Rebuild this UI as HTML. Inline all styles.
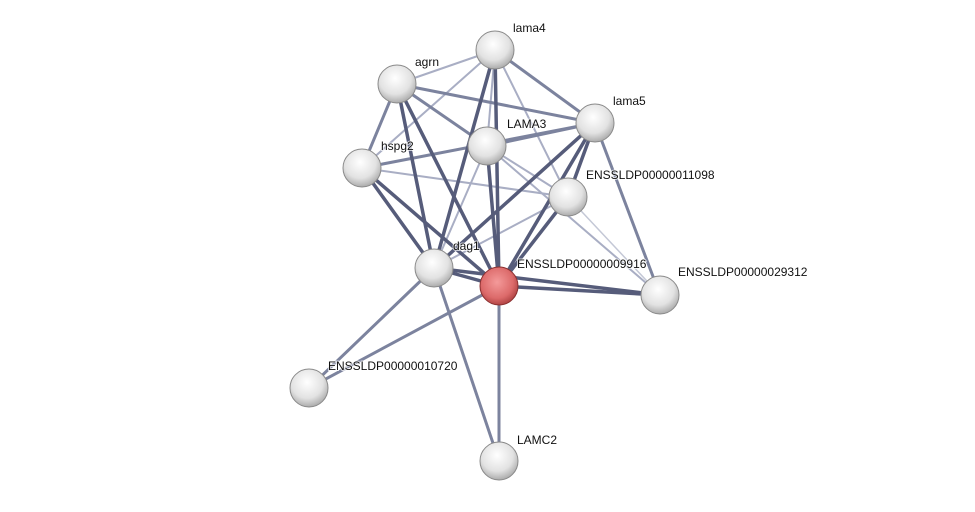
<!DOCTYPE html>
<html><head><style>
html,body{margin:0;padding:0;background:#fff;}
text{font-family:"Liberation Sans",sans-serif;font-size:12px;fill:#111;paint-order:stroke;stroke:#fff;stroke-width:2px;stroke-opacity:0.7;}
</style></head><body>
<svg width="975" height="507" xmlns="http://www.w3.org/2000/svg">
<defs>
<radialGradient id="g" cx="0.45" cy="0.35" r="0.7">
<stop offset="0" stop-color="#ffffff"/><stop offset="0.6" stop-color="#e2e2e2"/><stop offset="1" stop-color="#a0a0a0"/>
</radialGradient>
<radialGradient id="r" cx="0.45" cy="0.4" r="0.7">
<stop offset="0" stop-color="#f49a9a"/><stop offset="0.6" stop-color="#dc6a6a"/><stop offset="1" stop-color="#9a3030"/>
</radialGradient>
</defs>
<g stroke-linecap="round">
<g stroke="#a9aec4" stroke-width="2">
<line x1="397" y1="84" x2="495" y2="50"/>
<line x1="495" y1="50" x2="362" y2="168"/>
<line x1="495" y1="50" x2="568" y2="197"/>
<line x1="487" y1="146" x2="434" y2="268"/>
<line x1="487" y1="146" x2="568" y2="197"/>
<line x1="362" y1="168" x2="568" y2="197"/>
<line x1="568" y1="197" x2="434" y2="268"/>
<line x1="487" y1="146" x2="660" y2="295"/>
<line x1="495" y1="50" x2="487" y2="146"/>
</g>
<g stroke="#c4c8d6" stroke-width="1.5">
<line x1="568" y1="197" x2="660" y2="295"/>
</g>
<g stroke="#7c839e" stroke-width="3">
<line x1="397" y1="84" x2="595" y2="123"/>
<line x1="397" y1="84" x2="487" y2="146"/>
<line x1="397" y1="84" x2="362" y2="168"/>
<line x1="495" y1="50" x2="595" y2="123"/>
<line x1="595" y1="123" x2="487" y2="146"/>
<line x1="595" y1="123" x2="362" y2="168"/>
<line x1="595" y1="123" x2="660" y2="295"/>
<line x1="434" y1="268" x2="309" y2="388"/>
<line x1="499" y1="286" x2="309" y2="388"/>
<line x1="434" y1="268" x2="499" y2="461"/>
<line x1="499" y1="286" x2="499" y2="461"/>
</g>
<g stroke="#565c7a" stroke-width="3.5">
<line x1="397" y1="84" x2="434" y2="268"/>
<line x1="397" y1="84" x2="499" y2="286"/>
<line x1="495" y1="50" x2="434" y2="268"/>
<line x1="495" y1="50" x2="499" y2="286"/>
<line x1="595" y1="123" x2="434" y2="268"/>
<line x1="595" y1="123" x2="499" y2="286"/>
<line x1="595" y1="123" x2="568" y2="197"/>
<line x1="487" y1="146" x2="499" y2="286"/>
<line x1="362" y1="168" x2="434" y2="268"/>
<line x1="362" y1="168" x2="499" y2="286"/>
<line x1="568" y1="197" x2="499" y2="286"/>
<line x1="434" y1="268" x2="499" y2="286"/>
<line x1="434" y1="268" x2="660" y2="295"/>
<line x1="499" y1="286" x2="660" y2="295"/>
</g>
</g>
<g stroke="#8a8a8a" stroke-width="1">
<circle cx="495" cy="50" r="19" fill="url(#g)"/>
<circle cx="397" cy="84" r="19" fill="url(#g)"/>
<circle cx="595" cy="123" r="19" fill="url(#g)"/>
<circle cx="487" cy="146" r="19" fill="url(#g)"/>
<circle cx="362" cy="168" r="19" fill="url(#g)"/>
<circle cx="568" cy="197" r="19" fill="url(#g)"/>
<circle cx="434" cy="268" r="19" fill="url(#g)"/>
<circle cx="660" cy="295" r="19" fill="url(#g)"/>
<circle cx="309" cy="388" r="19" fill="url(#g)"/>
<circle cx="499" cy="461" r="19" fill="url(#g)"/>
<circle cx="499" cy="286" r="19" fill="url(#r)" stroke="#8a3030"/>
</g>
<text x="513" y="32">lama4</text>
<text x="415" y="66">agrn</text>
<text x="613" y="105">lama5</text>
<text x="507" y="128">LAMA3</text>
<text x="381" y="150">hspg2</text>
<text x="586" y="179">ENSSLDP00000011098</text>
<text x="453" y="250">dag1</text>
<text x="517" y="268">ENSSLDP00000009916</text>
<text x="678" y="276">ENSSLDP00000029312</text>
<text x="328" y="370">ENSSLDP00000010720</text>
<text x="517" y="444">LAMC2</text>
</svg>
</body></html>
